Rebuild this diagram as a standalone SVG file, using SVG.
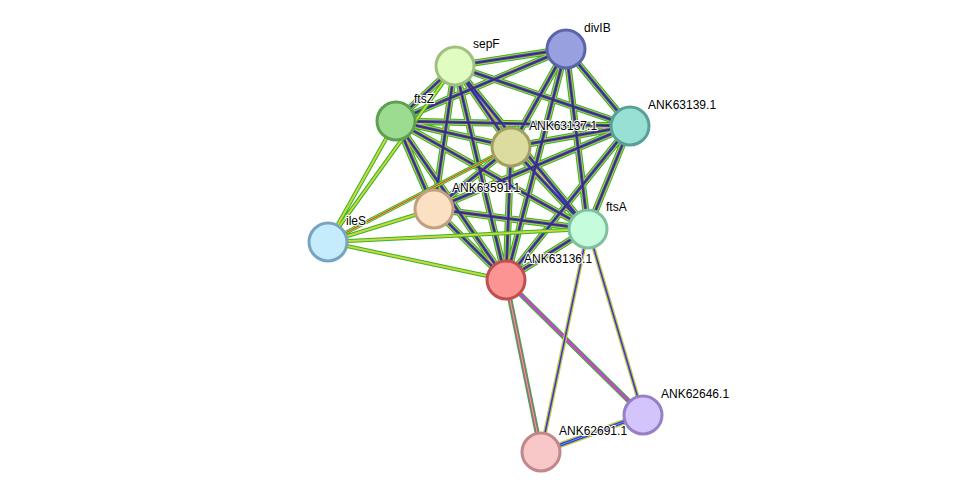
<svg xmlns="http://www.w3.org/2000/svg" xmlns:xlink="http://www.w3.org/1999/xlink" width="975" height="498" viewBox="0 0 975 498">
<style>
.n{stroke-width:3}
.t{font-family:"Liberation Sans",Arial,sans-serif;font-size:12px;fill:#000;paint-order:stroke;stroke:#fff;stroke-width:2px}
.e{fill:none}
</style>
<defs>
<path id="rich" d="M455,66L566,49M455,66L396,121M455,66L511,147M455,66L434,209M455,66L588,229M455,66L506,280M566,49L511,147M566,49L588,229M566,49L506,280M566,49L396,121M396,121L511,147M396,121L434,209M396,121L588,229M396,121L506,280M511,147L434,209M511,147L588,229M511,147L506,280M511,147L630,126M434,209L588,229M434,209L506,280M588,229L506,280M630,126L588,229M630,126L506,280M566,49L630,126M455,66L630,126M396,121L630,126M434,209L630,126"/>
<path id="iles" d="M328,242L396,121M328,242L455,66M328,242L434,209M328,242L511,147M328,242L588,229M328,242L506,280"/>
</defs>
<rect width="975" height="498" fill="#fff"/>
<g id="connectors" class="e">
<use xlink:href="#rich" stroke="#2db82d" stroke-width="7"/>
<use xlink:href="#rich" stroke="#c8c832" stroke-width="5"/>
<use xlink:href="#rich" stroke="#3f3fd8" stroke-width="3"/>
<use xlink:href="#rich" stroke="#333" stroke-width="1"/>
<use xlink:href="#iles" stroke="#2db82d" stroke-width="4"/>
<use xlink:href="#iles" stroke="#d4d43c" stroke-width="2"/>
<path d="M328,242L511,147" stroke="#e83030" stroke-width="1"/>
<path d="M506,280L541,452M506,280L643,415" stroke="#2db82d" stroke-width="5"/>
<path d="M506,280L541,452M506,280L643,415" stroke="#cc44cc" stroke-width="3"/>
<path d="M506,280L541,452" stroke="#c8c832" stroke-width="1"/>
<path d="M588,229L643,415M588,229L541,452" stroke="#c8c832" stroke-width="4"/>
<path d="M588,229L643,415M588,229L541,452" stroke="#3535f0" stroke-width="1.5"/>
<path d="M643,415L541,452" stroke="#c8c832" stroke-width="6"/>
<path d="M643,415L541,452" stroke="#3535f0" stroke-width="3"/>
<path d="M643,415L541,452" stroke="#4fa0d0" stroke-width="1"/>
</g>
<g id="sepF"><circle class="n" cx="455" cy="66" r="19" fill="#e0fcc0" stroke="#a0c080"/><text class="t" x="473" y="48">sepF</text></g>
<g id="divIB"><circle class="n" cx="566" cy="49" r="19" fill="#98a0e0" stroke="#5a64a8"/><text class="t" x="584" y="32">divIB</text></g>
<g id="ftsZ"><circle class="n" cx="396" cy="121" r="19" fill="#9cdc90" stroke="#5ea050"/><text class="t" x="414" y="103">ftsZ</text></g>
<g id="ANK63137.1"><circle class="n" cx="511" cy="147" r="19" fill="#dcdca0" stroke="#a0a060"/><text class="t" x="529" y="130">ANK63137.1</text></g>
<g id="ANK63139.1"><circle class="n" cx="630" cy="126" r="19" fill="#98e0d4" stroke="#58a098"/><text class="t" x="648" y="109">ANK63139.1</text></g>
<g id="ANK63591.1"><circle class="n" cx="434" cy="209" r="19" fill="#fce0c4" stroke="#c0a080"/><text class="t" x="452" y="192">ANK63591.1</text></g>
<g id="ileS"><circle class="n" cx="328" cy="242" r="19" fill="#c4ecfc" stroke="#78a4c0"/><text class="t" x="346" y="225">ileS</text></g>
<g id="ftsA"><circle class="n" cx="588" cy="229" r="19" fill="#c4fcdc" stroke="#80c0a0"/><text class="t" x="606" y="211">ftsA</text></g>
<g id="ANK63136.1"><circle class="n" cx="506" cy="280" r="19" fill="#fc9494" stroke="#c05050"/><text class="t" x="524" y="263">ANK63136.1</text></g>
<g id="ANK62646.1"><circle class="n" cx="643" cy="415" r="19" fill="#d4c4fc" stroke="#9880c8"/><text class="t" x="661" y="398">ANK62646.1</text></g>
<g id="ANK62691.1"><circle class="n" cx="541" cy="452" r="19" fill="#f8c8c8" stroke="#c08888"/><text class="t" x="559" y="435">ANK62691.1</text></g>
</svg>
